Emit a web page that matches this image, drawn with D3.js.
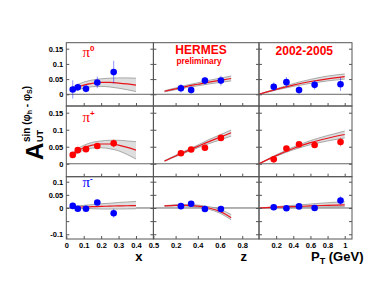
<!DOCTYPE html>
<meta charset="utf-8">

<style type="text/css">
  body { margin: 0; background: #fff; }
  svg { display: block; font-family: "Liberation Sans", Arial, sans-serif; font-weight: bold; }
  .frame { fill: none; stroke: #555; stroke-width: 1; }
  .zero { stroke: #555; stroke-width: 0.9; }
  .band { fill: #dedede; stroke: none; }
  .edge { fill: none; stroke: #8a8a8a; stroke-width: 0.7; }
  .fit { fill: none; stroke: #e8131b; stroke-width: 1.2; }
  .axis text { fill: #000; }
</style>

<body></body>

<script src="https://d3js.org/d3.v7.min.js"></script>

<script>

// mean kinematics of the bins
var xBins  = [0.037, 0.066, 0.113, 0.178, 0.272];
var zBins  = [0.248, 0.340, 0.464, 0.608];
var ptBins = [0.172, 0.320, 0.467, 0.649, 0.951];

// pi0 asymmetries
var pi0X     = [0.016, 0.023, 0.018, 0.039, 0.073];
var pi0XErr  = [0.030, 0.012, 0.012, 0.019, 0.037];
var pi0Z     = [0.020, 0.014, 0.045, 0.045];
var pi0ZErr  = [0.014, 0.012, 0.012, 0.016];
var pi0Pt    = [0.025, 0.040, 0.014, 0.031, 0.033];
var pi0PtErr = [0.014, 0.017, 0.013, 0.015, 0.022];
// pi+
var pipX     = [0.026, 0.040, 0.043, 0.052, 0.060];
var pipXErr  = [0.006, 0.005, 0.005, 0.006, 0.012];
var pipZ     = [0.031, 0.042, 0.047, 0.076];
var pipZErr  = [0.006, 0.006, 0.007, 0.009];
var pipPt    = [0.013, 0.045, 0.057, 0.055, 0.064];
var pipPtErr = [0.006, 0.007, 0.007, 0.007, 0.013];
// pi-
var pimX     = [0.008, -0.003, -0.003, 0.021, -0.020];
var pimXErr  = [0.012, 0.008, 0.008, 0.010, 0.017];
var pimZ     = [0.007, 0.016, -0.004, -0.004];
var pimZErr  = [0.009, 0.009, 0.010, 0.012];
var pimPt    = [0.003, -0.001, 0.006, 0.000, 0.028];
var pimPtErr = [0.008, 0.008, 0.009, 0.010, 0.016];

var xGrid  = [0.03, 0.05, 0.1, 0.15, 0.2, 0.25, 0.3, 0.35, 0.4];
var zGrid  = [0.1, 0.2, 0.3, 0.4, 0.5, 0.6, 0.7];
var ptGrid = [0, 0.2, 0.4, 0.6, 0.8, 1.0];

var pi0XFit = [0.014, 0.020, 0.030, 0.036, 0.039, 0.039, 0.037, 0.034, 0.030];
var pi0XHi  = [0.022, 0.028, 0.040, 0.047, 0.051, 0.053, 0.054, 0.054, 0.053];
var pi0XLo  = [0.008, 0.012, 0.020, 0.025, 0.026, 0.024, 0.020, 0.015, 0.009];
var pi0ZFit = [0.010, 0.018, 0.026, 0.033, 0.040, 0.046, 0.052];
var pi0ZHi  = [0.012, 0.021, 0.030, 0.038, 0.046, 0.053, 0.060];
var pi0ZLo  = [0.008, 0.015, 0.022, 0.028, 0.034, 0.039, 0.044];
var pi0PtFit = [0, 0.016, 0.030, 0.042, 0.051, 0.058];
var pi0PtHi  = [0, 0.018, 0.035, 0.049, 0.060, 0.067];
var pi0PtLo  = [0, 0.014, 0.026, 0.036, 0.044, 0.050];

var pipXFit = [0.022, 0.032, 0.047, 0.055, 0.058, 0.058, 0.055, 0.048, 0.040];
var pipXHi  = [0.027, 0.038, 0.054, 0.063, 0.067, 0.069, 0.069, 0.067, 0.065];
var pipXLo  = [0.017, 0.026, 0.040, 0.046, 0.047, 0.044, 0.038, 0.027, 0.014];
var pipZFit = [0.008, 0.023, 0.037, 0.051, 0.065, 0.078, 0.091];
var pipZHi  = [0.009, 0.025, 0.040, 0.055, 0.071, 0.085, 0.099];
var pipZLo  = [0.007, 0.021, 0.034, 0.047, 0.059, 0.070, 0.081];
var pipPtFit = [0, 0.024, 0.045, 0.062, 0.075, 0.086];
var pipPtHi  = [0, 0.026, 0.049, 0.068, 0.083, 0.096];
var pipPtLo  = [0, 0.022, 0.041, 0.056, 0.067, 0.076];

var pimXFit = [0.002, 0.003, 0.004, 0.005, 0.006, 0.007, 0.008, 0.0085, 0.009];
var pimXHi  = [0.005, 0.007, 0.010, 0.013, 0.016, 0.018, 0.021, 0.023, 0.025];
var pimXLo  = [0.000, -0.001, -0.002, -0.003, -0.004, -0.004, -0.004, -0.0035, -0.003];
var pimZFit = [0.008, 0.010, 0.010, 0.007, 0.000, -0.013, -0.037];
var pimZHi  = [0.009, 0.012, 0.013, 0.011, 0.005, -0.005, -0.025];
var pimZLo  = [0.007, 0.008, 0.007, 0.003, -0.005, -0.020, -0.045];
var pimPtFit = [0, 0.003, 0.005, 0.008, 0.010, 0.012];
var pimPtHi  = [0, 0.005, 0.010, 0.015, 0.020, 0.024];
var pimPtLo  = [0, 0.001, 0.002, 0.003, 0.004, 0.005];

// ticks
var xTickVals = [[0.1, 0.2, 0.3, 0.4], [0.2, 0.4, 0.6, 0.8], [0.2, 0.4, 0.6, 0.8, 1]];
var xLabelVals = [[0, 0.1, 0.2, 0.3, 0.4, 0.5], [0.2, 0.4, 0.6, 0.8], [0.2, 0.4, 0.6, 0.8, 1]];
var yTickVals = [[0, 0.05, 0.1, 0.15], [0, 0.05, 0.1, 0.15], [-0.1, -0.05, 0, 0.05, 0.1]];

// tables built from the arrays above
var bins = [xBins, zBins, ptBins];
var grids = [xGrid, zGrid, ptGrid];
var vals = [[pi0X, pi0Z, pi0Pt], [pipX, pipZ, pipPt], [pimX, pimZ, pimPt]];
var errs = [[pi0XErr, pi0ZErr, pi0PtErr], [pipXErr, pipZErr, pipPtErr], [pimXErr, pimZErr, pimPtErr]];
var fits = [[pi0XFit, pi0ZFit, pi0PtFit], [pipXFit, pipZFit, pipPtFit], [pimXFit, pimZFit, pimPtFit]];
var his  = [[pi0XHi, pi0ZHi, pi0PtHi], [pipXHi, pipZHi, pipPtHi], [pimXHi, pimZHi, pimPtHi]];
var los  = [[pi0XLo, pi0ZLo, pi0PtLo], [pipXLo, pipZLo, pipPtLo], [pimXLo, pimZLo, pimPtLo]];
var markColor = ["#0000ff", "#ff0000", "#0000ff"];

var svg = d3.select("body").append("svg")
    .attr("width", 376)
    .attr("height", 291);

// panel edges
var colEdge = [66.3, 153.4, 259, 352],
    rowEdge = [42.7, 106, 176.7, 239];

var xScales = [
  d3.scaleLinear().domain([0, 0.5]).range([colEdge[0], colEdge[1]]),
  d3.scaleLinear().domain([0, 0.951]).range([colEdge[1], colEdge[2]]),
  d3.scaleLinear().domain([0, 1.085]).range([colEdge[2], colEdge[3]])
];
var yScales = [
  d3.scaleLinear().domain([-0.0385, 0.1697]).range([rowEdge[1], rowEdge[0]]),
  d3.scaleLinear().domain([-0.038, 0.1697]).range([rowEdge[2], rowEdge[1]]),
  d3.scaleLinear().domain([-0.118, 0.119]).range([rowEdge[3], rowEdge[2]])
];

function fmt(d) {
  if (Math.abs(d + 0.05) < 1e-9) return ""; // no -0.05 label on the plot
  return String(+d.toFixed(2));
}

for (var r = 0; r < 3; r++) {
  for (var c = 0; c < 3; c++) {
    var xs = xScales[c], ys = yScales[r];
    var g = svg.append("g");

    // zero line
    g.append("line")
      .attr("class", "zero")
      .attr("x1", colEdge[c]).attr("x2", colEdge[c + 1])
      .attr("y1", ys(0)).attr("y2", ys(0));

    var curve = grids[c].map(function(x, i) {
      return {x: x, fit: fits[r][c][i], hi: his[r][c][i], lo: los[r][c][i]};
    });

    g.append("path")
      .attr("class", "band")
      .attr("d", d3.area()
        .x(function(d) { return xs(d.x); })
        .y0(function(d) { return ys(d.lo); })
        .y1(function(d) { return ys(d.hi); })
        .curve(d3.curveMonotoneX)(curve));

    ["hi", "lo"].forEach(function(k) {
      g.append("path")
        .attr("class", "edge")
        .attr("d", d3.line()
          .x(function(d) { return xs(d.x); })
          .y(function(d) { return ys(d[k]); })
          .curve(d3.curveMonotoneX)(curve));
    });

    g.append("path")
      .attr("class", "fit")
      .attr("d", d3.line()
        .x(function(d) { return xs(d.x); })
        .y(function(d) { return ys(d.fit); })
        .curve(d3.curveMonotoneX)(curve));

    var pts = bins[c].map(function(b, i) {
      return {x: b, y: vals[r][c][i], e: errs[r][c][i]};
    });

    g.selectAll("line.err")
      .data(pts).enter()
      .append("line")
      .attr("class", "err")
      .attr("x1", function(d) { return xs(d.x); })
      .attr("x2", function(d) { return xs(d.x); })
      .attr("y1", function(d) { return ys(d.y - d.e); })
      .attr("y2", function(d) { return ys(d.y + d.e); })
      .attr("stroke", markColor[r])
      .attr("stroke-opacity", 0.55)
      .attr("stroke-width", 0.8);

    g.selectAll("circle")
      .data(pts).enter()
      .append("circle")
      .attr("cx", function(d) { return xs(d.x); })
      .attr("cy", function(d) { return ys(d.y); })
      .attr("r", 3.3)
      .attr("fill", markColor[r]);

    // frame + inward ticks
    g.append("rect")
      .attr("class", "frame")
      .attr("x", colEdge[c]).attr("y", rowEdge[r])
      .attr("width", colEdge[c + 1] - colEdge[c])
      .attr("height", rowEdge[r + 1] - rowEdge[r]);

    var bottom = d3.axisBottom(xs)
      .tickValues(r == 2 ? xLabelVals[c] : xTickVals[c])
      .tickSize(-3)
      .tickPadding(4)
      .tickFormat(r == 2 ? fmt : "");
    var left = d3.axisLeft(ys)
      .tickValues(yTickVals[r])
      .tickSize(-3)
      .tickPadding(3)
      .tickFormat(c == 0 ? fmt : "");
    var right = d3.axisRight(ys)
      .tickValues(yTickVals[r])
      .tickSize(-3)
      .tickFormat("");

    [[bottom, "translate(0," + rowEdge[r + 1] + ")"],
     [left, "translate(" + colEdge[c] + ",0)"],
     [right, "translate(" + colEdge[c + 1] + ",0)"]].forEach(function(a) {
      var ag = g.append("g")
        .attr("class", "axis")
        .attr("transform", a[1])
        .call(a[0]);
      ag.select(".domain").remove();
      ag.attr("font-family", null)
        .attr("font-size", 7.5)
        .attr("color", "#555");
    });
  }
}

// pion labels
var pionLabels = [["0", "#ff0000"], ["+", "#ff0000"], ["-", "#0000ff"]];
var labelBase = [57.3, 122, 187];
pionLabels.forEach(function(p, i) {
  var t = svg.append("text")
    .attr("x", 82.5)
    .attr("y", labelBase[i])
    .attr("fill", p[1]);
  t.append("tspan")
    .attr("font-family", "'Liberation Serif', 'DejaVu Serif', serif")
    .attr("font-weight", "normal")
    .attr("font-size", 15)
    .text("\u03c0");
  t.append("tspan")
    .attr("font-size", 8)
    .attr("dy", -6)
    .text(p[0]);
});

// experiment labels
svg.append("text")
  .attr("x", 201).attr("y", 53.8)
  .attr("text-anchor", "middle")
  .attr("font-size", 12)
  .attr("fill", "#ff0000")
  .text("HERMES");
svg.append("text")
  .attr("x", 199).attr("y", 64.2)
  .attr("text-anchor", "middle")
  .attr("font-size", 8.4)
  .attr("fill", "#ff0000")
  .text("preliminary");
svg.append("text")
  .attr("x", 304.3).attr("y", 55)
  .attr("text-anchor", "middle")
  .attr("font-size", 12)
  .attr("fill", "#ff0000")
  .text("2002-2005");

// axis titles
svg.append("text")
  .attr("x", 142.5).attr("y", 261)
  .attr("text-anchor", "end")
  .attr("font-size", 13)
  .text("x");
svg.append("text")
  .attr("x", 247).attr("y", 261)
  .attr("text-anchor", "end")
  .attr("font-size", 13)
  .text("z");
var ptTitle = svg.append("text")
  .attr("x", 311).attr("y", 261)
  .attr("font-size", 13);
ptTitle.append("tspan").text("P");
ptTitle.append("tspan").attr("font-size", 9).attr("dy", 3).text("T");
ptTitle.append("tspan").attr("dy", -3).text(" (GeV)");

// y title: A_UT^{sin(phi_h - phi_S)}
var yt = svg.append("g")
  .attr("transform", "translate(43,160) rotate(-90)");
yt.append("text")
  .attr("font-size", 24)
  .text("A");
yt.append("text")
  .attr("x", 18)
  .attr("font-size", 9)
  .text("UT");
var sup = yt.append("text")
  .attr("x", 18)
  .attr("y", -13)
  .attr("font-size", 10);
sup.append("tspan").text("sin (\u03c6");
sup.append("tspan").attr("font-size", 7).attr("dy", 2).text("h");
sup.append("tspan").attr("dy", -2).text(" - \u03c6");
sup.append("tspan").attr("font-size", 7).attr("dy", 2).text("S");
sup.append("tspan").attr("dy", -2).text(")");

</script>
